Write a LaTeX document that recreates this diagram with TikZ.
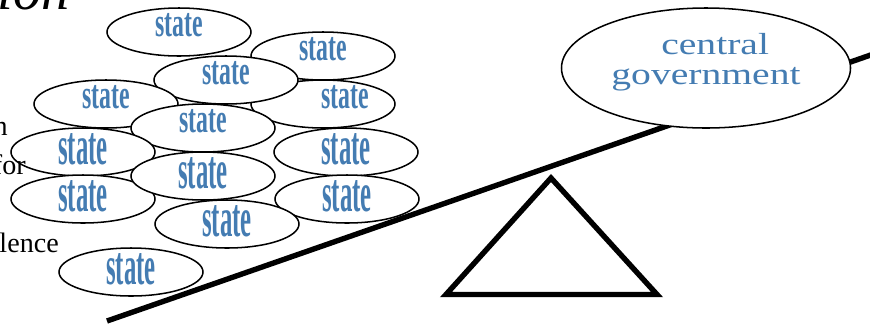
\documentclass[tikz,border=0pt]{standalone}
\usepackage{fontspec}
\setmainfont{Liberation Serif}
\newfontfamily\statefont{Liberation Serif}[FakeStretch=0.58]
\newfontfamily\bigstatefont{Liberation Serif}[FakeStretch=0.45]
\newfontfamily\govfont{Liberation Serif}[FakeStretch=1.3]
\usepackage{tikz}
\usetikzlibrary{shapes.geometric}
\definecolor{stateblue}{RGB}{68, 124, 178}

\begin{document}
\begin{tikzpicture}[
  x=0.03cm, y=-0.03cm,
  stateblob/.style={ellipse, draw, line width=1.3pt, fill=white,
    minimum width=4.32cm, minimum height=1.44cm, inner sep=0pt},
  statetext/.style={text=stateblue, inner sep=0pt, yshift=0.21cm,
    font=\statefont\bfseries\fontsize{35}{35}\selectfont},
  bigstatetext/.style={text=stateblue, inner sep=0pt, yshift=0.075cm,
    font=\bigstatefont\bfseries\fontsize{47}{47}\selectfont},
  govblob/.style={ellipse, draw, line width=1.3pt, fill=white,
    minimum width=8.67cm, minimum height=3.6cm, inner sep=0pt},
  govtext/.style={text=stateblue, inner sep=0pt, align=center, yshift=0.165cm,
    font=\govfont\fontsize{26}{25.6}\selectfont},
  fragtext/.style={inner sep=0pt, anchor=base east, font=\fontsize{24}{24}\selectfont}
]
  \useasboundingbox (0,0) rectangle (870,324);
  \clip (0,0) rectangle (870,324);

  % seesaw
  \coordinate (plank-lo) at (107,321);
  \coordinate (plank-hi) at (885,50);
  \coordinate (pivot) at (551,178);
  \coordinate (foot-l) at (446,294.5);
  \coordinate (foot-r) at (657,294.5);
  \draw[line width=4.6pt] (plank-lo) -- (plank-hi);
  \draw[line width=4.6pt, line join=miter] (pivot) -- (foot-l) -- (foot-r) -- cycle;

  % the pile of states
  \node[stateblob, label={[statetext]center:state}] (s1) at (179,32) {};
  \node[stateblob, label={[statetext]center:state}] (s2) at (323,56) {};
  \node[stateblob, label={[statetext, xshift=0.66cm]center:state}] (s3) at (323,104) {};
  \node[stateblob, label={[statetext]center:state}] (s4) at (226,80) {};
  \node[stateblob, label={[statetext]center:state}] (s5) at (106,104) {};
  \node[stateblob, label={[statetext]center:state}] (s6) at (203,128) {};
  \node[stateblob, label={[bigstatetext]center:state}] (s7) at (346,152) {};
  \node[stateblob, label={[bigstatetext]center:state}] (s8) at (83,152) {};
  \node[stateblob, label={[bigstatetext]center:state}] (s9) at (347,199) {};
  \node[stateblob, label={[bigstatetext]center:state}] (s10) at (83,199) {};
  \node[stateblob, label={[bigstatetext]center:state}] (s11) at (203,176) {};
  \node[stateblob, label={[bigstatetext]center:state}] (s12) at (227,224) {};
  \node[stateblob, label={[bigstatetext]center:state}] (s13) at (131,272) {};

  % the other side
  \node[govblob, label={[govtext]center:{\hspace*{0.55cm}central\\government}}] (gov) at (706,68) {};

  % leftovers of the slide text
  \node[fragtext, font=\itshape\fontsize{48}{48}\selectfont] (frag-title) at (70,9) {ion};
  \node[fragtext] (frag-n) at (8,135) {n};
  \node[fragtext] (frag-for) at (26,174) {for};
  \node[fragtext] (frag-lence) at (59,252) {lence};
\end{tikzpicture}
\end{document}
